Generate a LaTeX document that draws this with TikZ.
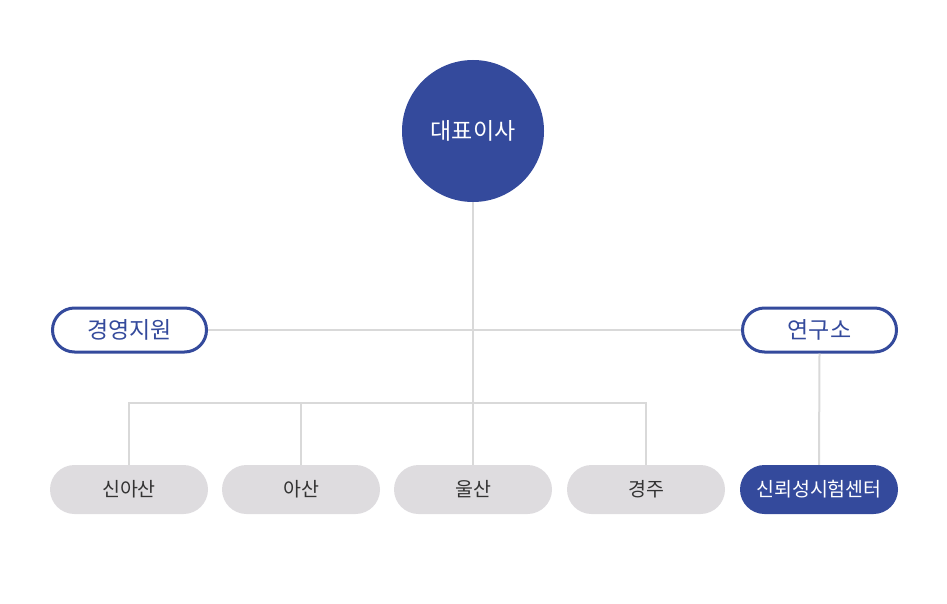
\documentclass[tikz,border=0pt]{standalone}
\usepackage{fontspec}
\setmainfont{Noto Sans CJK KR}
\definecolor{navy}{HTML}{344A9C}
\definecolor{pillgray}{HTML}{DEDCDF}
\definecolor{wiregray}{HTML}{D9D9D9}
\definecolor{inkgray}{HTML}{333333}
\begin{document}
\begin{tikzpicture}[x=1pt,y=-1pt,
    wire/.style={draw=wiregray,line width=2pt},
    head/.style={circle,fill=navy,text=white,minimum size=142pt,inner sep=0pt,
        font=\fontsize{23}{23}\selectfont},
    dept/.style={rectangle,draw=navy,line width=3pt,fill=white,rounded corners=22pt,
        minimum width=154pt,minimum height=44pt,inner sep=0pt,text=navy,
        font=\fontsize{23}{23}\selectfont},
    site/.style={rectangle,fill=pillgray,rounded corners=24.5pt,
        minimum width=158pt,minimum height=49pt,inner sep=0pt,text=inkgray,
        font=\fontsize{19.5}{19.5}\selectfont}]
        \useasboundingbox (0,0) rectangle (947,604);
        \node[head] (ceo) at (473,131) {대표이사};
        \node[dept] (support) at (129.5,330) {경영지원};
        \node[dept] (lab) at (819.5,330) {연구소};
        \foreach \name/\x/\txt in {sinasan/129/신아산,asan/301/아산,ulsan/473/울산,gyeongju/646/경주}
            \node[site] (\name) at (\x,489.5) {\txt};
        \node[site,fill=navy,text=white] (center) at (819,489.5) {신뢰성시험센터};
        \coordinate (split) at (473,403);
        \draw[wire] (ceo.south) -- (ulsan.north);
        \draw[wire] (support.east) -- (lab.west);
        \draw[wire] (sinasan.north) |- (split) -| (gyeongju.north);
        \draw[wire] (asan.north) -- (asan.north |- split);
        \draw[wire] (lab.south) -- (center.north);
\end{tikzpicture}
\end{document}
